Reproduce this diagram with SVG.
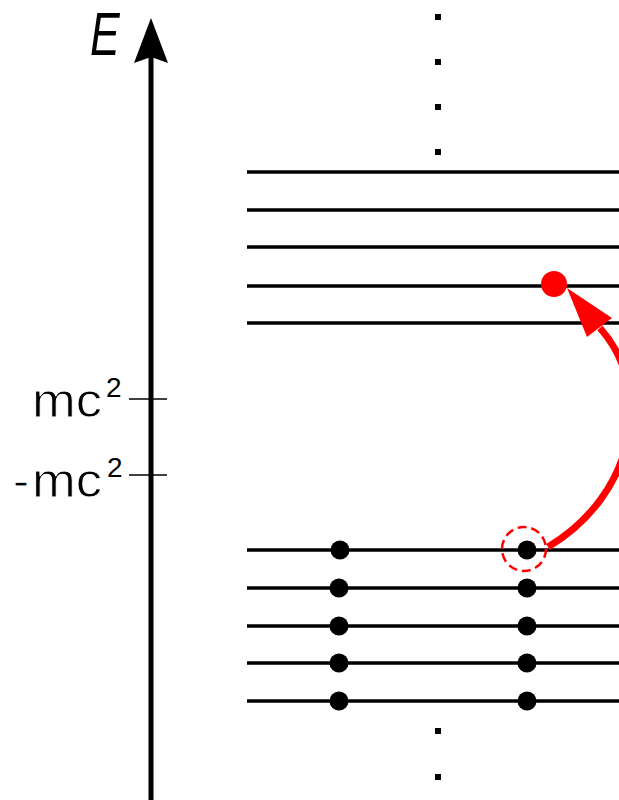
<svg xmlns="http://www.w3.org/2000/svg" width="619" height="800" viewBox="0 0 619 800">
<style>
.lvl{stroke:#000;stroke-width:3.3;fill:none}
.tick{stroke:#000;stroke-width:1.5}
.e{fill:#000}
.dd{fill:#000}
.lbl{font-family:"Liberation Sans",Arial,sans-serif;fill:#000}
.thin{stroke:#fff;stroke-width:0.9}
.sup{font-size:28px;stroke:none}
</style>
<rect width="619" height="800" fill="#fff"/>
<g id="axis">
<line x1="151" y1="800" x2="151" y2="55" stroke="#000" stroke-width="5"/>
<polygon points="151,18 168,63 151,57 134,63" fill="#000"/>
<text class="lbl" font-size="61" font-style="italic" transform="translate(90,55) scale(0.73,1)">E</text>
</g>
<g id="mc2">
<line class="tick" x1="129" y1="399" x2="167" y2="399"/>
<text class="lbl" font-size="48"><tspan class="thin" x="32" y="417" textLength="70" lengthAdjust="spacingAndGlyphs">mc</tspan><tspan class="sup" x="106" y="397">2</tspan></text>
</g>
<g id="neg-mc2">
<line class="tick" x1="129" y1="475" x2="167" y2="475"/>
<text class="lbl" font-size="48"><tspan class="thin" x="13" y="497">-</tspan><tspan class="thin" x="32" y="497" textLength="70" lengthAdjust="spacingAndGlyphs">mc</tspan><tspan class="sup" x="107" y="477">2</tspan></text>
</g>
<g id="positive-levels">
<line class="lvl" x1="247" y1="172" x2="619" y2="172"/>
<line class="lvl" x1="247" y1="210" x2="619" y2="210"/>
<line class="lvl" x1="247" y1="247" x2="619" y2="247"/>
<line class="lvl" x1="247" y1="286" x2="619" y2="286"/>
<line class="lvl" x1="247" y1="323" x2="619" y2="323"/>
</g>
<g id="negative-levels">
<line class="lvl" x1="247" y1="550" x2="619" y2="550"/>
<line class="lvl" x1="247" y1="588" x2="619" y2="588"/>
<line class="lvl" x1="247" y1="626" x2="619" y2="626"/>
<line class="lvl" x1="247" y1="663" x2="619" y2="663"/>
<line class="lvl" x1="247" y1="701" x2="619" y2="701"/>
</g>
<g id="electrons">
<circle class="e" cx="340" cy="550" r="9.5"/>
<circle class="e" cx="339" cy="588" r="9.5"/>
<circle class="e" cx="339" cy="626" r="9.5"/>
<circle class="e" cx="339" cy="663" r="9.5"/>
<circle class="e" cx="339" cy="701" r="9.5"/>
<circle class="e" cx="527" cy="550" r="9.5"/>
<circle class="e" cx="527" cy="588" r="9.5"/>
<circle class="e" cx="527" cy="626" r="9.5"/>
<circle class="e" cx="527" cy="663" r="9.5"/>
<circle class="e" cx="527" cy="701" r="9.5"/>
</g>
<g id="hole">
<circle cx="524" cy="549" r="22" fill="none" stroke="#f00" stroke-width="2.5" stroke-dasharray="9,4.8"/>
</g>
<g id="excited-electron">
<circle cx="554" cy="284" r="13" fill="#f00"/>
</g>
<g id="dots">
<rect class="dd" x="435" y="14" width="6" height="6"/>
<rect class="dd" x="435" y="59" width="6" height="6"/>
<rect class="dd" x="435" y="104" width="6" height="6"/>
<rect class="dd" x="435" y="149" width="6" height="6"/>
<rect class="dd" x="435" y="728" width="6" height="6"/>
<rect class="dd" x="435" y="774" width="6" height="6"/>
</g>
<g id="connectors">
<path d="M548,547 C635,495 655,390 600,328" fill="none" stroke="#f00" stroke-width="7"/>
<polygon points="567,288 612,318 587,337" fill="#f00"/>
</g>
</svg>
